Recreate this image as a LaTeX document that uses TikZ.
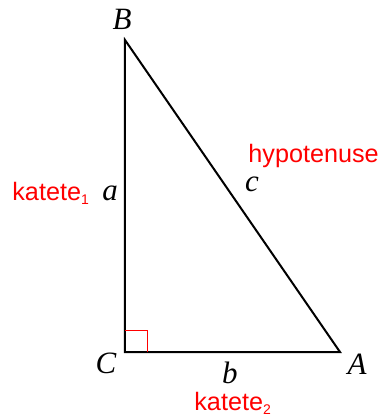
\documentclass[tikz,border=0pt]{standalone}
\usepackage{fontspec}
\setmainfont{Liberation Serif}
\newfontfamily\lblfont{Liberation Sans}
\usepackage{xcolor}
\usepackage{tikz}
\usetikzlibrary{positioning}
\definecolor{Lbl}{HTML}{FF0000}
\newcommand{\lowsub}[1]{\raisebox{-2pt}{\fontsize{7}{7}\selectfont #1}}

\begin{document}
\begin{tikzpicture}[x=0.5pt,y=-0.5pt,
    side/.style={draw=black,line width=1pt},
    vtx/.style={font=\fontsize{15.5}{15.5}\selectfont\itshape,inner sep=0pt},
    lbl/.style={font=\lblfont\fontsize{12.6}{12.6}\selectfont,text=Lbl,inner sep=0pt,anchor=base west}]
  \useasboundingbox (0,0) rectangle (384,419);
  \coordinate (C) at (125,352);
  \coordinate (B) at (125,40);
  \coordinate (A) at (340,352);
  \draw[side] (B) -- (C) -- (A) -- cycle;
  \draw[Lbl,line width=0.5pt] (125,330) -| (147,352);
  \node[vtx] (lB) at (122,19) {B};
  \node[vtx] (lC) at (106,363) {C};
  \node[vtx] (lA) at (357,364) {A};
  \node[vtx] (la) at (110,193) {a};
  \node[vtx] (lb) at (230,373) {b};
  \node[vtx] (lc) at (252,184) {c};
  \node[lbl] (kat1) at (12,200) {katete\lowsub{1}};
  \node[lbl] (hyp) at (248,162) {hypotenuse};
  \node[lbl] (kat2) at (194,410) {katete\lowsub{2}};
\end{tikzpicture}
\end{document}
